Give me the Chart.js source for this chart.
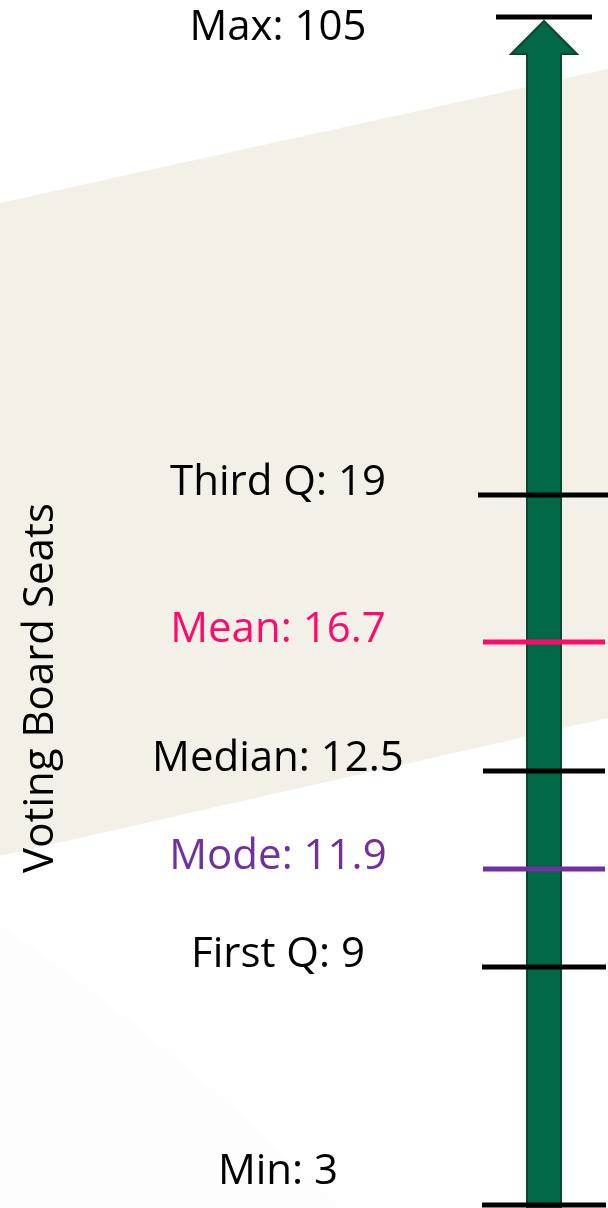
<!DOCTYPE html>
<html>
<head>
<meta charset="utf-8">
<script src="https://cdn.jsdelivr.net/npm/chart.js@4/dist/chart.umd.min.js"></script>
<style>
  html, body { margin: 0; padding: 0; background: #ffffff; }
</style>
</head>
<body>
<canvas id="seats-chart" width="608" height="1208"></canvas>
<script>
const statNames = ['Min', 'First Q', 'Mode', 'Median', 'Mean', 'Third Q', 'Max'];
const statValues = [3, 9, 11.9, 12.5, 16.7, 19, 105];
const statColors = ['#000000', '#000000', '#7030a0', '#000000', '#ff0a6c', '#000000', '#000000'];
const axisTitle = 'Voting Board Seats';

// the axis is schematic, not linear: where each stat sits (0 = bottom, 1 = top)
const axisStops = [0, 0.2003, 0.2828, 0.3653, 0.4739, 0.5976, 1];
// half length of each tick line
const tickHalfLengths = [62, 62, 61, 61, 61, 66, 48];

const FONT = '"Open Sans", "DejaVu Sans", sans-serif';

// piecewise scale so the stats land where the slide put them
const LinearScale = Chart.LinearScale || Chart.registry.getScale('linear');
class SchematicScale extends LinearScale {
  toDecimal(value) {
    if (value <= statValues[0]) return axisStops[0];
    for (let i = 1; i < statValues.length; i++) {
      if (value <= statValues[i]) {
        const t = (value - statValues[i - 1]) / (statValues[i] - statValues[i - 1]);
        return axisStops[i - 1] + t * (axisStops[i] - axisStops[i - 1]);
      }
    }
    return axisStops[axisStops.length - 1];
  }
  getPixelForValue(value) {
    return this.getPixelForDecimal(this.toDecimal(value));
  }
  getValueForPixel(pixel) {
    const d = this.getDecimalForPixel(pixel);
    for (let i = 1; i < axisStops.length; i++) {
      if (d <= axisStops[i]) {
        const t = (d - axisStops[i - 1]) / (axisStops[i] - axisStops[i - 1]);
        return statValues[i - 1] + t * (statValues[i] - statValues[i - 1]);
      }
    }
    return statValues[statValues.length - 1];
  }
}
SchematicScale.id = 'schematic';
SchematicScale.defaults = LinearScale.defaults;
Chart.register(SchematicScale);

// slide background: beige band + faint corner
const fondo = {
  id: 'fondo',
  beforeDraw(chart) {
    const c = chart.ctx;
    const w = chart.width, h = chart.height;
    c.save();
    c.fillStyle = '#ffffff';
    c.fillRect(0, 0, w, h);
    c.fillStyle = '#fcfdfc';
    c.beginPath();
    c.moveTo(0, 925);
    c.quadraticCurveTo(170, 1040, 340, h);
    c.lineTo(0, h);
    c.closePath();
    c.fill();
    c.fillStyle = '#f3f0e7';
    c.beginPath();
    c.moveTo(0, 203);
    c.lineTo(w, 69);
    c.lineTo(w, 718);
    c.lineTo(0, 856);
    c.closePath();
    c.fill();
    c.restore();
  }
};

// the arrow, built from the floating bar's geometry
const flecha = {
  id: 'flecha',
  beforeDatasetsDraw(chart) {
    const meta = chart.getDatasetMeta(1);
    const bar = meta.data[0];
    if (!bar) return;
    const { x, y, base, width } = bar.getProps(['x', 'y', 'base', 'width'], true);
    const half = width / 2;
    const tip = y + 4;
    const headBase = y + 37;
    const headHalf = 33;
    const c = chart.ctx;
    c.save();
    c.beginPath();
    c.moveTo(x - half, base + 4);
    c.lineTo(x - half, headBase);
    c.lineTo(x - headHalf, headBase);
    c.lineTo(x, tip);
    c.lineTo(x + headHalf, headBase);
    c.lineTo(x + half, headBase);
    c.lineTo(x + half, base + 4);
    c.closePath();
    c.fillStyle = '#006747';
    c.fill();
    c.lineWidth = 2;
    c.strokeStyle = '#0c4630';
    c.stroke();
    c.restore();
  }
};

// stat labels and the rotated axis title
const etiquetas = {
  id: 'etiquetas',
  afterDraw(chart) {
    const c = chart.ctx;
    const yScale = chart.scales.y;
    const area = chart.chartArea;
    c.save();
    c.font = '42px ' + FONT;
    c.textAlign = 'center';
    c.textBaseline = 'alphabetic';
    statValues.forEach((v, i) => {
      const py = yScale.getPixelForValue(v);
      const baseline = Math.min(Math.max(py, area.top + 23), area.bottom - 21);
      c.fillStyle = statColors[i];
      c.fillText(statNames[i] + ': ' + v, 278, baseline);
    });
    c.translate(53, 688);
    c.rotate(-Math.PI / 2);
    c.fillStyle = '#000000';
    c.fillText(axisTitle, 0, 0);
    c.restore();
  }
};

function dibujar() {
  const ctx = document.getElementById('seats-chart');
  new Chart(ctx, {
    type: 'bar',
    data: {
      labels: [axisTitle],
      datasets: [
        {
          type: 'line',
          showLine: false,
          data: statValues.map((v) => ({ x: axisTitle, y: v })),
          pointStyle: 'line',
          pointRadius: tickHalfLengths,
          pointBorderWidth: 5,
          pointBorderColor: statColors,
          pointBackgroundColor: statColors,
          clip: false,
          order: 0
        },
        {
          type: 'bar',
          data: [[statValues[0], statValues[statValues.length - 1]]],
          barThickness: 34,
          backgroundColor: 'rgba(0,0,0,0)',
          borderWidth: 0,
          order: 1
        }
      ]
    },
    options: {
      responsive: false,
      animation: false,
      events: [],
      layout: { autoPadding: false, padding: { top: 17, bottom: 3, left: 0, right: 0 } },
      plugins: {
        legend: { display: false },
        tooltip: { enabled: false }
      },
      scales: {
        x: {
          display: false,
          offset: true
        },
        y: {
          type: 'schematic',
          min: statValues[0],
          max: statValues[statValues.length - 1],
          ticks: { display: false },
          grid: { display: false },
          border: { display: false },
          afterFit: (scale) => {
            scale.width = 480;
          }
        }
      }
    },
    plugins: [fondo, flecha, etiquetas]
  });
}

if (document.fonts && document.fonts.load) {
  document.fonts.load('42px "Open Sans"').then(dibujar, dibujar);
} else {
  dibujar();
}
</script>
</body>
</html>
